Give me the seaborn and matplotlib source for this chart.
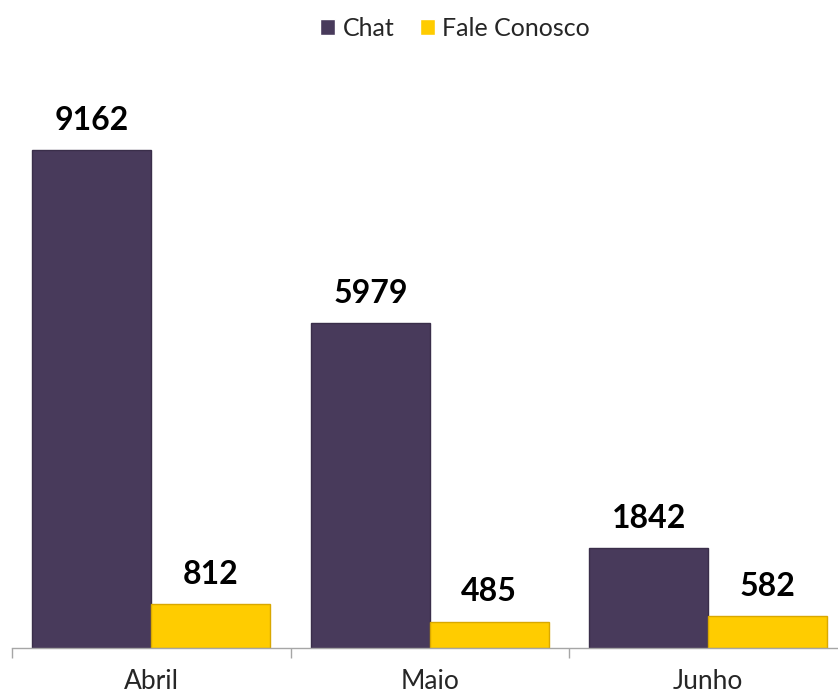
import matplotlib
matplotlib.use("Agg")
import matplotlib.pyplot as plt
import seaborn as sns
import pandas as pd

months = ["Abril", "Maio", "Junho"]
chat = [9162, 5979, 1842]
fale = [812, 485, 582]
series = ["Chat", "Fale Conosco"]
colors = ["#483a5b", "#ffcc00"]
edges = ["#3a2e4a", "#d9a800"]

df = pd.DataFrame({
    "Mês": months * 2,
    "Valor": chat + fale,
    "Série": [series[0]] * 3 + [series[1]] * 3,
})

sns.set_theme(style="white")
plt.rcParams["font.family"] = ["Lato", "DejaVu Sans"]

fig = plt.figure(figsize=(8.38, 7.0), dpi=100)
ax = fig.add_axes([12 / 838, 52 / 700, 835.5 / 838, (648 - 104.5) / 700])

sns.barplot(data=df, x="Mês", y="Valor", hue="Série", order=months,
            hue_order=series, palette=colors, width=0.853, gap=0,
            saturation=1, ax=ax, legend=True)

for i, cont in enumerate(ax.containers):
    for p in cont:
        p.set_edgecolor(edges[i])
        p.set_linewidth(1.0)
    ax.bar_label(cont, labels=[f"{int(v)}" for v in cont.datavalues],
                 padding=11, fontsize=23, fontweight="bold", color="black")

ax.set_xlim(-0.5, 2.5)
ax.set_ylim(0, 10000)
ax.set_xlabel("")
ax.set_ylabel("")
ax.set_yticks([])
for s in ["top", "right", "left"]:
    ax.spines[s].set_visible(False)
ax.spines["bottom"].set_color("#a6a6a6")
ax.spines["bottom"].set_linewidth(1.0)

ax.set_xticks([0, 1, 2])
ax.set_xticklabels(months, fontsize=19)
ax.set_xticks([-0.5, 0.5, 1.5, 2.5], minor=True)
ax.tick_params(axis="x", which="major", bottom=False, length=0, pad=15)
ax.tick_params(axis="x", which="minor", bottom=True, length=7, width=1.0,
               color="#a6a6a6", direction="out")

leg = ax.legend(loc="center", bbox_to_anchor=(455 / 838, 1 - 28 / 700),
                bbox_transform=fig.transFigure, ncol=2, frameon=False,
                fontsize=18, handlelength=0.6, handleheight=0.6,
                handletextpad=0.3, columnspacing=1.0)

fig.savefig("out.png", dpi=100)
